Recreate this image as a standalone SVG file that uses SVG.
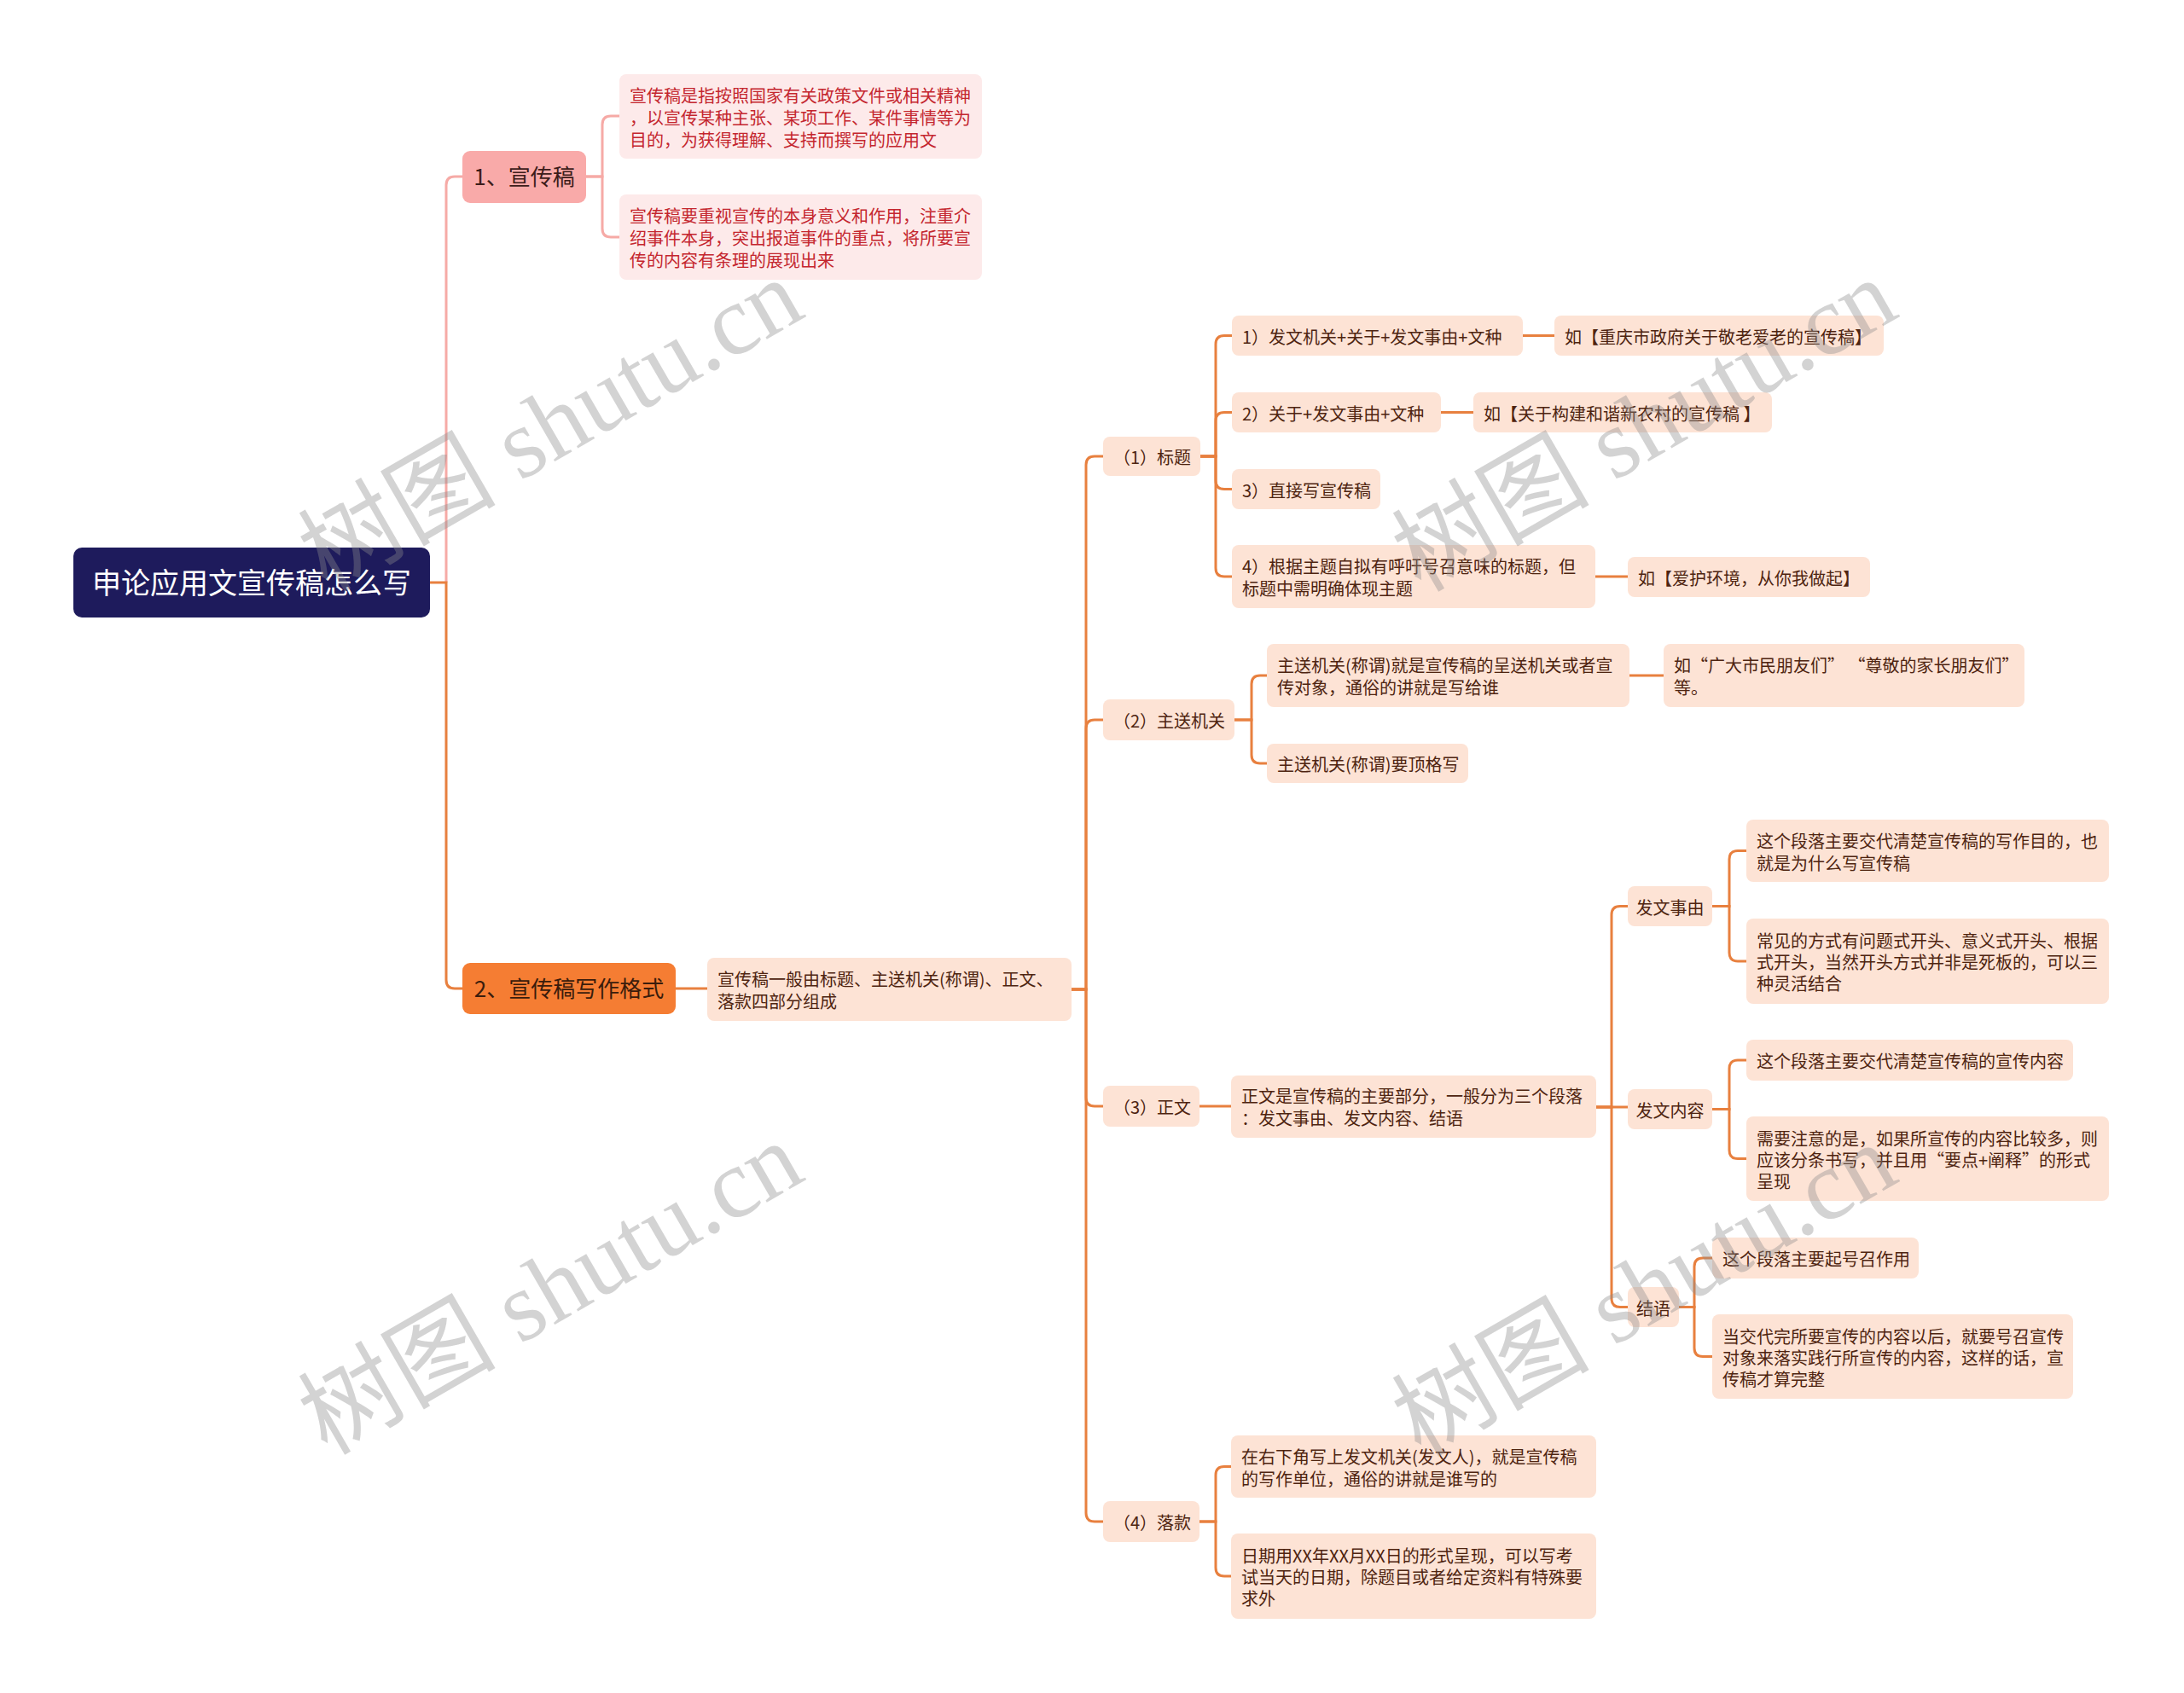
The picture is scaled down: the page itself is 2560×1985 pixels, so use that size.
<svg xmlns="http://www.w3.org/2000/svg" width="2560" height="1985" viewBox="0 0 2560 1985">
<style>
.pk{fill:#f9aaa9}
.lf1{fill:#fdeaea}
.pe{fill:#fde3d5}
.t{font-family:"Noto Sans CJK SC","Noto Sans",sans-serif;font-size:20px;fill:#4e2410}
.tr{fill:#c4262e}
.ln{fill:none;stroke:#e8803f;stroke-width:3}
.lp{fill:none;stroke:#f6aaa6;stroke-width:3}
.c{text-anchor:middle}
</style>
<rect width="2560" height="1985" fill="#ffffff"/>
<g id="connectors">
<path class="lp" d="M523,683 V217 Q523,207 533,207 H542"/>
<path class="lp" d="M687,207 H706 V146 Q706,136 716,136 H726"/>
<path class="lp" d="M687,207 H706 V268 Q706,278 716,278 H726"/>
<path class="ln" d="M504,683 H523 V1149 Q523,1159 533,1159 H542"/>
<path class="ln" d="M792,1159 H829"/>
<path class="ln" d="M1256,1160 H1273 V545 Q1273,535 1283,535 H1293"/>
<path class="ln" d="M1256,1160 H1273 V854 Q1273,844 1283,844 H1293"/>
<path class="ln" d="M1256,1160 H1273 V1287 Q1273,1297 1283,1297 H1293"/>
<path class="ln" d="M1256,1160 H1273 V1774 Q1273,1784 1283,1784 H1293"/>
<path class="ln" d="M1407,535 H1425 V403.5 Q1425,393.5 1435,393.5 H1444"/>
<path class="ln" d="M1407,535 H1425 V493.5 Q1425,483.5 1435,483.5 H1444"/>
<path class="ln" d="M1407,535 H1425 V563.5 Q1425,573.5 1435,573.5 H1444"/>
<path class="ln" d="M1407,535 H1425 V666 Q1425,676 1435,676 H1444"/>
<path class="ln" d="M1785,393.5 H1822"/>
<path class="ln" d="M1689,483.5 H1727"/>
<path class="ln" d="M1870,676 H1908"/>
<path class="ln" d="M1447,844 H1467 V802 Q1467,792 1477,792 H1485"/>
<path class="ln" d="M1447,844 H1467 V885 Q1467,895 1477,895 H1485"/>
<path class="ln" d="M1910,792 H1950"/>
<path class="ln" d="M1406,1297 H1443"/>
<path class="ln" d="M1871,1298 H1889 V1072.5 Q1889,1062.5 1899,1062.5 H1908"/>
<path class="ln" d="M1871,1298 H1908"/>
<path class="ln" d="M1871,1298 H1889 V1522.5 Q1889,1532.5 1899,1532.5 H1908"/>
<path class="ln" d="M2007,1062.5 H2027 V1007.5 Q2027,997.5 2037,997.5 H2047"/>
<path class="ln" d="M2007,1062.5 H2027 V1117 Q2027,1127 2037,1127 H2047"/>
<path class="ln" d="M2007,1300.5 H2027 V1253 Q2027,1243 2037,1243 H2047"/>
<path class="ln" d="M2007,1300.5 H2027 V1348.5 Q2027,1358.5 2037,1358.5 H2047"/>
<path class="ln" d="M1968,1532.5 H1986 V1485 Q1986,1475 1996,1475 H2007"/>
<path class="ln" d="M1968,1532.5 H1986 V1580.5 Q1986,1590.5 1996,1590.5 H2007"/>
<path class="ln" d="M1406,1784 H1425 V1729.5 Q1425,1719.5 1435,1719.5 H1443"/>
<path class="ln" d="M1406,1784 H1425 V1838 Q1425,1848 1435,1848 H1443"/>
</g>
<g id="root"><rect x="86" y="642" width="418" height="82" rx="10" fill="#1e1b5c"/><text class="t c" x="295" y="696" style="font-size:34px;fill:#ffffff">申论应用文宣传稿怎么写</text></g>
<g id="n1"><rect class="pk" x="542" y="177" width="145" height="61" rx="9"/><text class="t c" x="614.5" y="217" style="font-size:26px;fill:#3d1c1a">1、宣传稿</text></g>
<g id="n1a"><rect class="lf1" x="726" y="87" width="425" height="99" rx="8"/><text class="t tr"><tspan x="738" y="120">宣传稿是指按照国家有关政策文件或相关精神</tspan><tspan x="738" y="146">，以宣传某种主张、某项工作、某件事情等为</tspan><tspan x="738" y="172">目的，为获得理解、支持而撰写的应用文</tspan></text></g>
<g id="n1b"><rect class="lf1" x="726" y="228" width="425" height="100" rx="8"/><text class="t tr"><tspan x="738" y="261">宣传稿要重视宣传的本身意义和作用，注重介</tspan><tspan x="738" y="287">绍事件本身，突出报道事件的重点，将所要宣</tspan><tspan x="738" y="313">传的内容有条理的展现出来</tspan></text></g>
<g id="n2"><rect x="542" y="1129" width="250" height="60" rx="9" fill="#f57d33"/><text class="t c" x="667" y="1169" style="font-size:26px;fill:#3a1c0c">2、宣传稿写作格式</text></g>
<g id="n3"><rect class="pe" x="829" y="1123" width="427" height="74" rx="8"/><text class="t"><tspan x="841" y="1156">宣传稿一般由标题、主送机关(称谓)、正文、</tspan><tspan x="841" y="1182">落款四部分组成</tspan></text></g>
<g id="t1"><rect class="pe" x="1293" y="512" width="114" height="46" rx="8"/><text class="t" x="1305" y="544">（1）标题</text></g>
<g id="t1a"><rect class="pe" x="1444" y="370" width="341" height="47" rx="8"/><text class="t" x="1456" y="403">1）发文机关+关于+发文事由+文种</text></g>
<g id="t1ae"><rect class="pe" x="1822" y="370" width="386" height="47" rx="8"/><text class="t" x="1834" y="403">如【重庆市政府关于敬老爱老的宣传稿】</text></g>
<g id="t1b"><rect class="pe" x="1444" y="460" width="245" height="47" rx="8"/><text class="t" x="1456" y="493">2）关于+发文事由+文种</text></g>
<g id="t1be"><rect class="pe" x="1727" y="460" width="350" height="47" rx="8"/><text class="t" x="1739" y="493">如【关于构建和谐新农村的宣传稿 】</text></g>
<g id="t1c"><rect class="pe" x="1444" y="550" width="174" height="47" rx="8"/><text class="t" x="1456" y="583">3）直接写宣传稿</text></g>
<g id="t1d"><rect class="pe" x="1444" y="639" width="426" height="74" rx="8"/><text class="t"><tspan x="1456" y="672">4）根据主题自拟有呼吁号召意味的标题，但</tspan><tspan x="1456" y="698">标题中需明确体现主题</tspan></text></g>
<g id="t1de"><rect class="pe" x="1908" y="653" width="284" height="47" rx="8"/><text class="t" x="1920" y="686">如【爱护环境，从你我做起】</text></g>
<g id="t2"><rect class="pe" x="1293" y="820" width="154" height="48" rx="8"/><text class="t" x="1305" y="853">（2）主送机关</text></g>
<g id="t2a"><rect class="pe" x="1485" y="755" width="425" height="74" rx="8"/><text class="t"><tspan x="1497" y="788">主送机关(称谓)就是宣传稿的呈送机关或者宣</tspan><tspan x="1497" y="814">传对象，通俗的讲就是写给谁</tspan></text></g>
<g id="t2ae"><rect class="pe" x="1950" y="755" width="423" height="74" rx="8"/><text class="t"><tspan x="1962" y="788">如“广大市民朋友们” “尊敬的家长朋友们”</tspan><tspan x="1962" y="814">等。</tspan></text></g>
<g id="t2b"><rect class="pe" x="1485" y="872" width="236" height="46" rx="8"/><text class="t" x="1497" y="904">主送机关(称谓)要顶格写</text></g>
<g id="t3"><rect class="pe" x="1293" y="1273" width="113" height="48" rx="8"/><text class="t" x="1305" y="1306">（3）正文</text></g>
<g id="t3a"><rect class="pe" x="1443" y="1261" width="428" height="73" rx="8"/><text class="t"><tspan x="1455" y="1293">正文是宣传稿的主要部分，一般分为三个段落</tspan><tspan x="1455" y="1319">：发文事由、发文内容、结语</tspan></text></g>
<g id="t3b1"><rect class="pe" x="1908" y="1039" width="99" height="47" rx="8"/><text class="t c" x="1957.5" y="1071.5">发文事由</text></g>
<g id="t3b1a"><rect class="pe" x="2047" y="961" width="425" height="73" rx="8"/><text class="t"><tspan x="2059" y="993.5">这个段落主要交代清楚宣传稿的写作目的，也</tspan><tspan x="2059" y="1019.5">就是为什么写宣传稿</tspan></text></g>
<g id="t3b1b"><rect class="pe" x="2047" y="1077" width="425" height="100" rx="8"/><text class="t"><tspan x="2059" y="1111">常见的方式有问题式开头、意义式开头、根据</tspan><tspan x="2059" y="1136">式开头，当然开头方式并非是死板的，可以三</tspan><tspan x="2059" y="1161">种灵活结合</tspan></text></g>
<g id="t3b2"><rect class="pe" x="1908" y="1277" width="99" height="47" rx="8"/><text class="t c" x="1957.5" y="1309.5">发文内容</text></g>
<g id="t3b2a"><rect class="pe" x="2047" y="1219" width="383" height="48" rx="8"/><text class="t" x="2059" y="1252">这个段落主要交代清楚宣传稿的宣传内容</text></g>
<g id="t3b2b"><rect class="pe" x="2047" y="1309" width="425" height="99" rx="8"/><text class="t"><tspan x="2059" y="1342.5">需要注意的是，如果所宣传的内容比较多，则</tspan><tspan x="2059" y="1367.5">应该分条书写，并且用“要点+阐释”的形式</tspan><tspan x="2059" y="1392.5">呈现</tspan></text></g>
<g id="t3b3"><rect class="pe" x="1908" y="1509" width="60" height="47" rx="8"/><text class="t c" x="1938" y="1541.5">结语</text></g>
<g id="t3b3a"><rect class="pe" x="2007" y="1451" width="242" height="48" rx="8"/><text class="t" x="2019" y="1484">这个段落主要起号召作用</text></g>
<g id="t3b3b"><rect class="pe" x="2007" y="1541" width="423" height="99" rx="8"/><text class="t"><tspan x="2019" y="1574.5">当交代完所要宣传的内容以后，就要号召宣传</tspan><tspan x="2019" y="1599.5">对象来落实践行所宣传的内容，这样的话，宣</tspan><tspan x="2019" y="1624.5">传稿才算完整</tspan></text></g>
<g id="t4"><rect class="pe" x="1293" y="1760" width="113" height="48" rx="8"/><text class="t" x="1305" y="1793">（4）落款</text></g>
<g id="t4a"><rect class="pe" x="1443" y="1683" width="428" height="73" rx="8"/><text class="t"><tspan x="1455" y="1715.5">在右下角写上发文机关(发文人)，就是宣传稿</tspan><tspan x="1455" y="1741.5">的写作单位，通俗的讲就是谁写的</tspan></text></g>
<g id="t4b"><rect class="pe" x="1443" y="1798" width="428" height="100" rx="8"/><text class="t"><tspan x="1455" y="1832">日期用XX年XX月XX日的形式呈现，可以写考</tspan><tspan x="1455" y="1857">试当天的日期，除题目或者给定资料有特殊要</tspan><tspan x="1455" y="1882">求外</tspan></text></g>
<g id="watermarks" font-family="'Liberation Serif','Noto Sans CJK SC',serif" font-size="116" fill="#8c8c8c" fill-opacity="0.38" text-anchor="middle">
<text transform="translate(645,498) rotate(-30)" y="40">树图 shutu.cn</text>
<text transform="translate(1927,498) rotate(-30)" y="40">树图 shutu.cn</text>
<text transform="translate(645,1510) rotate(-30)" y="40">树图 shutu.cn</text>
<text transform="translate(1927,1512) rotate(-30)" y="40">树图 shutu.cn</text>
</g>
</svg>
